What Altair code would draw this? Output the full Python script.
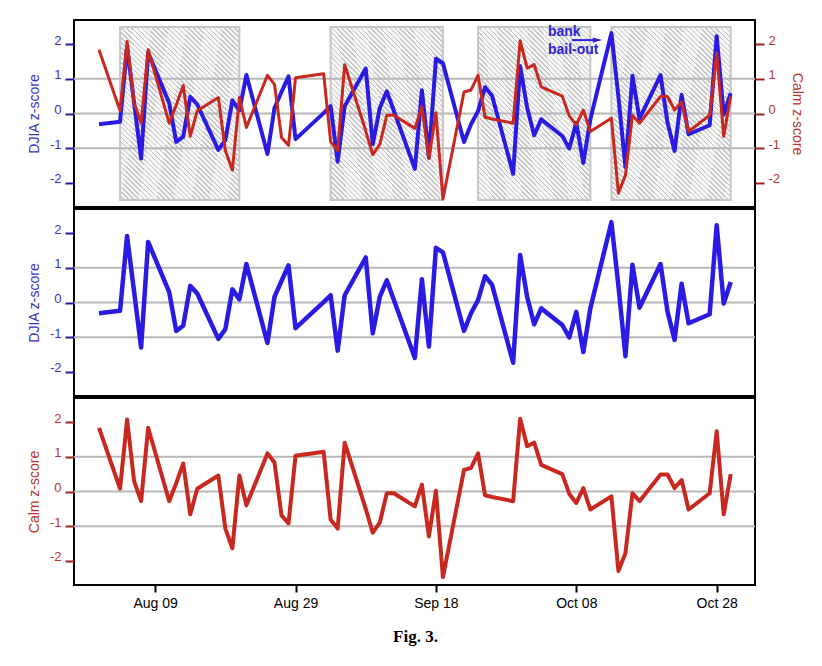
import altair as alt
import pandas as pd

# ---------------- data ----------------
trade_dates = [
    "2008-08-01", "2008-08-04", "2008-08-05", "2008-08-06", "2008-08-07", "2008-08-08",
    "2008-08-11", "2008-08-12", "2008-08-13", "2008-08-14", "2008-08-15",
    "2008-08-18", "2008-08-19", "2008-08-20", "2008-08-21", "2008-08-22",
    "2008-08-25", "2008-08-26", "2008-08-27", "2008-08-28", "2008-08-29",
    "2008-09-02", "2008-09-03", "2008-09-04", "2008-09-05",
    "2008-09-08", "2008-09-09", "2008-09-10", "2008-09-11", "2008-09-12",
    "2008-09-15", "2008-09-16", "2008-09-17", "2008-09-18", "2008-09-19",
    "2008-09-22", "2008-09-23", "2008-09-24", "2008-09-25", "2008-09-26",
    "2008-09-29", "2008-09-30", "2008-10-01", "2008-10-02", "2008-10-03",
    "2008-10-06", "2008-10-07", "2008-10-08", "2008-10-09", "2008-10-10",
    "2008-10-13", "2008-10-14", "2008-10-15", "2008-10-16", "2008-10-17",
    "2008-10-20", "2008-10-21", "2008-10-22", "2008-10-23", "2008-10-24",
    "2008-10-27", "2008-10-28", "2008-10-29", "2008-10-30",
]
djia_z = [
    -0.31, -0.24, 1.92, 0.31, -1.30, 1.75,
    0.30, -0.82, -0.67, 0.48, 0.26,
    -1.05, -0.77, 0.38, 0.09, 1.11,
    -1.17, 0.16, 0.62, 1.07, -0.74,
    0.01, 0.21, -1.39, 0.21,
    1.30, -0.89, 0.16, 0.64, 0.08,
    -1.60, 0.67, -1.27, 1.58, 1.45,
    -0.82, -0.31, 0.07, 0.76, 0.51,
    -1.74, 1.37, 0.16, -0.63, -0.17,
    -0.65, -1.01, -0.27, -1.43, -0.17,
    2.32, 0.48, -1.55, 1.09, -0.15,
    1.11, -0.27, -1.08, 0.54, -0.60,
    -0.34, 2.23, -0.03, 0.59,
]
calm_z = [
    1.84, 0.08, 2.08, 0.30, -0.28, 1.84,
    -0.28, 0.24, 0.81, -0.66, 0.08,
    0.46, -1.07, -1.64, 0.46, -0.40,
    1.10, 0.84, -0.69, -0.92, 1.03,
    1.15, -0.81, -1.07, 1.41,
    -0.50, -1.19, -0.90, -0.05, -0.05,
    -0.43, 0.20, -1.30, 0.02, -2.47,
    0.62, 0.68, 1.10, -0.11, -0.16,
    -0.28, 2.10, 1.31, 1.41, 0.77,
    0.50, -0.07, -0.33, 0.10, -0.52,
    -0.14, -2.30, -1.78, -0.05, -0.28,
    0.49, 0.49, 0.10, 0.33, -0.52,
    -0.05, 1.74, -0.66, 0.50,
]
grid_levels = [-1, 0, 1]
tick_levels = [-2, -1, 0, 1, 2]
x_tick_dates = ["2008-08-09", "2008-08-29", "2008-09-18", "2008-10-08", "2008-10-28"]
box_starts = ["2008-08-04", "2008-09-03", "2008-09-24", "2008-10-13"]
box_ends = ["2008-08-21", "2008-09-19", "2008-10-10", "2008-10-30"]
annot_lines = ["bank", "bail-out"]


def ms(s):
    return int(pd.Timestamp(s, tz="UTC").value // 10**6)


df = pd.DataFrame({"date": trade_dates, "djia": djia_z, "calm": calm_z})
grid_df = pd.DataFrame({"g": grid_levels})
box_df = pd.DataFrame({"start": box_starts, "end": box_ends})
annot_df = pd.DataFrame({
    "date": ["2008-10-03T23:00:00Z", "2008-10-03T23:00:00Z"],
    "v": [2.24, 1.72],
    "label": annot_lines,
})
arrow_df = pd.DataFrame({"date": ["2008-10-07T08:40:00Z"], "date2": ["2008-10-10T14:00:00Z"], "v": [2.12]})
head_df = pd.DataFrame({"date": ["2008-10-11T00:30:00Z"], "v": [2.12]})

# ---------------- styles ----------------
BLUE_LINE = "#2a1be4"
BLUE_TEXT = "#3b2fc4"
BLUE_TICK = "#2418a0"
RED_LINE = "#c8281f"
RED_TEXT = "#b9342c"
RED_TICK = "#a0201a"
GRID = "#b8b8b8"
FONT = "Liberation Sans"

W, H = 681, 187
xscale = alt.Scale(type="utc", domain=[ms("2008-07-28 10:30"), ms("2008-11-02 11:00")])
yscale = alt.Scale(domain=[-2.7, 2.7], nice=False, zero=False)

# hatch pattern imitated with a hard-stop linear gradient ("/" stripes)
N = 58
stops = []
for i in range(N):
    a, b, c = i / N, (i + 0.7) / N, (i + 1) / N
    stops += [
        alt.GradientStop(offset=a, color="#f6f6f6"),
        alt.GradientStop(offset=b, color="#f6f6f6"),
        alt.GradientStop(offset=b, color="#c4c4c4"),
        alt.GradientStop(offset=c, color="#c4c4c4"),
    ]
hatch = alt.LinearGradient(gradient="linear", stops=stops, x1=0, y1=1, x2=0.769, y2=-0.154)


def yaxis(title, text_color, tick_color, orient="left"):
    return alt.Axis(
        values=tick_levels, title=title, orient=orient,
        titleColor=text_color, labelColor=text_color, tickColor=tick_color,
        tickSize=9, tickWidth=2, domain=False, grid=False,
        labelFont=FONT, labelFontSize=13, titleFont=FONT, titleFontSize=14,
        titleFontWeight="normal", labelBaseline="alphabetic", labelPadding=4,
        titlePadding=8 if orient == "left" else 10,
        labelExpr="datum.value + ''",
    )


def xenc(field="date:T", axis=None):
    return alt.X(field, scale=xscale, axis=axis, title=None)


grid = alt.Chart(grid_df).mark_rule(color=GRID, strokeWidth=2).encode(
    y=alt.Y("g:Q", scale=yscale, axis=None)
)

# ---- top panel ----
boxes = alt.Chart(box_df).mark_rect(fill=hatch, stroke="#c6c6c6", strokeWidth=2).encode(
    x=xenc("start:T"), x2="end:T",
    y=alt.Y(datum=-2.5, scale=yscale, axis=None), y2=alt.Y2(datum=2.5),
)
blue_top = alt.Chart(df).mark_line(color=BLUE_LINE, strokeWidth=4, strokeJoin="round").encode(
    x=xenc(), y=alt.Y("djia:Q", scale=yscale, axis=yaxis("DJIA z-score", BLUE_TEXT, BLUE_TICK))
)
red_top = alt.Chart(df).mark_line(color=RED_LINE, strokeWidth=3, strokeJoin="round").encode(
    x=xenc(), y=alt.Y("calm:Q", scale=yscale, axis=yaxis("Calm z-score", RED_TEXT, RED_TICK, "right"))
)
annot = alt.Chart(annot_df).mark_text(
    align="left", baseline="alphabetic", font=FONT, fontSize=14, fontWeight="bold", color="#2f22d6"
).encode(x=xenc(), y=alt.Y("v:Q", scale=yscale, axis=None), text="label:N")
arrow = alt.Chart(arrow_df).mark_rule(color="#2f22d6", strokeWidth=2).encode(
    x=xenc(), x2="date2:T", y=alt.Y("v:Q", scale=yscale, axis=None)
)
head = alt.Chart(head_df).mark_point(
    shape="M-1,-0.55L1,0L-1,0.55Z", filled=True, color="#2f22d6", size=90, opacity=1
).encode(x=xenc(), y=alt.Y("v:Q", scale=yscale, axis=None))

top = alt.layer(boxes, grid, blue_top, annot, arrow, head, red_top).resolve_scale(
    y="independent"
).properties(width=W, height=H)

# ---- middle panel ----
blue_mid = alt.Chart(df).mark_line(color=BLUE_LINE, strokeWidth=4.5, strokeJoin="round").encode(
    x=xenc(), y=alt.Y("djia:Q", scale=yscale, axis=yaxis("DJIA z-score", BLUE_TEXT, BLUE_TICK))
)
middle = alt.layer(grid, blue_mid).resolve_scale(y="independent").properties(width=W, height=H)

# ---- bottom panel ----
xaxis = alt.Axis(
    values=[ms(d) for d in x_tick_dates], format="%b %d", tickSize=7, tickWidth=2,
    tickColor="black", domain=False, grid=False, labelColor="black",
    labelFont=FONT, labelFontSize=14, labelPadding=4, title=None,
)
red_bot = alt.Chart(df).mark_line(color=RED_LINE, strokeWidth=4, strokeJoin="round").encode(
    x=xenc(axis=xaxis), y=alt.Y("calm:Q", scale=yscale, axis=yaxis("Calm z-score", RED_TEXT, RED_TICK))
)
bottom = alt.layer(grid, red_bot).resolve_scale(y="independent").properties(width=W, height=H)

chart = alt.vconcat(top, middle, bottom, spacing=0).properties(
    padding={"left": 18, "top": 11, "right": 5, "bottom": 5},
    title=alt.Title("Fig. 3.", orient="bottom", anchor="middle", font="Liberation Serif",
                    fontSize=17, fontWeight="bold", color="black", offset=18),
).configure(
    font=FONT,
    view=alt.ViewConfig(stroke="black", strokeWidth=2),
)

chart.save("out.html", embed_options={"renderer": "svg", "actions": False})
